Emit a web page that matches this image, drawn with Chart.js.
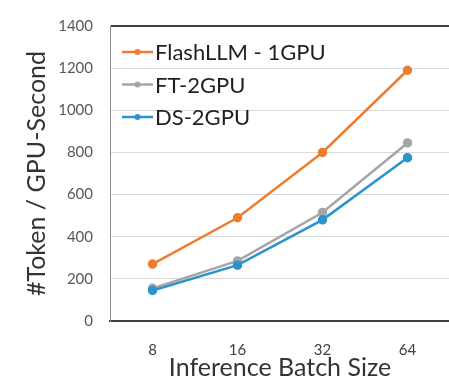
<!DOCTYPE html>
<html>
<head>
<meta charset="utf-8">
<script src="https://cdn.jsdelivr.net/npm/chart.js@4"></script>
<style>
  html, body { margin: 0; padding: 0; background: #ffffff; overflow: hidden; }
  #wrap { width: 449px; height: 380px; overflow: hidden; position: relative; }
  #box { width: 456px; height: 380px; position: absolute; left: 0; top: 0; }
</style>
</head>
<body>
<div id="wrap"><div id="box"><canvas id="chart" width="456" height="380"></canvas></div></div>
<script>
// Throughput per GPU for each inference batch size
const batchSizes = ['8', '16', '32', '64'];
const flashLLM1GPU = [270, 490, 800, 1190];
const ft2GPU = [155, 285, 515, 845];
const ds2GPU = [145, 265, 480, 775];
const seriesNames = ['FlashLLM - 1GPU', 'FT-2GPU', 'DS-2GPU'];
const seriesColors = ['#ED7D31', '#A5A5A5', '#2C93CC'];

const FONT = 'Lato, "Open Sans", sans-serif';

// Legend drawn inside the plot area, top-left, in series order
const innerLegend = {
  id: 'innerLegend',
  afterDatasetsDraw(chart) {
    const ctx = chart.ctx;
    const area = chart.chartArea;
    const x0 = area.left + 12;
    const lineLen = 31;
    ctx.save();
    ctx.font = '22px ' + FONT;
    ctx.textBaseline = 'middle';
    ctx.textAlign = 'left';
    seriesNames.forEach((name, i) => {
      const y = area.top + 26 + i * 32.5;
      ctx.strokeStyle = seriesColors[i];
      ctx.lineWidth = 2.5;
      ctx.beginPath();
      ctx.moveTo(x0, y);
      ctx.lineTo(x0 + lineLen, y);
      ctx.stroke();
      ctx.fillStyle = seriesColors[i];
      ctx.beginPath();
      ctx.arc(x0 + lineLen / 2, y, 3, 0, Math.PI * 2);
      ctx.fill();
      ctx.fillStyle = '#1F1F1F';
      ctx.fillText(name, x0 + lineLen + 2, y + 1);
    });
    ctx.restore();
  }
};

const seriesData = [flashLLM1GPU, ft2GPU, ds2GPU];

new Chart(document.getElementById('chart'), {
  type: 'line',
  data: {
    labels: batchSizes,
    // drawn back to front so the FlashLLM line sits on top
    datasets: seriesData.map((vals, i) => ({
      label: seriesNames[i],
      data: vals,
      borderColor: seriesColors[i],
      backgroundColor: seriesColors[i],
      borderWidth: 2.5,
      pointRadius: 3.5,
      pointHoverRadius: 3.5,
      tension: 0,
      fill: false
    })).reverse()
  },
  options: {
    responsive: false,
    animation: false,
    devicePixelRatio: 1,
    layout: { padding: { top: 18, right: 0, left: 0, bottom: 0 } },
    plugins: {
      legend: { display: false },
      tooltip: { enabled: false }
    },
    scales: {
      x: {
        type: 'category',
        offset: true,
        grid: { display: false, drawTicks: false },
        border: { display: true, color: '#404040', width: 2 },
        ticks: {
          padding: 20,
          color: '#404040',
          font: { family: FONT, size: 15 }
        },
        title: {
          display: true,
          text: 'Inference Batch Size',
          color: '#333333',
          font: { family: FONT, size: 25, lineHeight: 1 },
          padding: { top: 0, bottom: 0 }
        },
        afterFit(scale) { scale.height = 59; }
      },
      y: {
        min: 0,
        max: 1400,
        ticks: {
          stepSize: 200,
          padding: 17,
          color: '#595959',
          font: { family: FONT, size: 15 },
          callback: (v) => String(v)
        },
        grid: {
          drawTicks: false,
          lineWidth: (c) => (c.tick && c.tick.value === 1400 ? 2 : 1),
          color: (c) => (c.tick && c.tick.value === 1400 ? '#404040' : '#D9D9D9')
        },
        border: { display: true, color: '#8C8C8C', width: 1 },
        title: {
          display: true,
          text: '#Token / GPU-Second',
          color: '#333333',
          font: { family: FONT, size: 25, lineHeight: 1 },
          padding: { top: 24, bottom: 0 }
        },
        afterFit(scale) { scale.width = 110; }
      }
    }
  },
  plugins: [innerLegend]
});
</script>
</body>
</html>
